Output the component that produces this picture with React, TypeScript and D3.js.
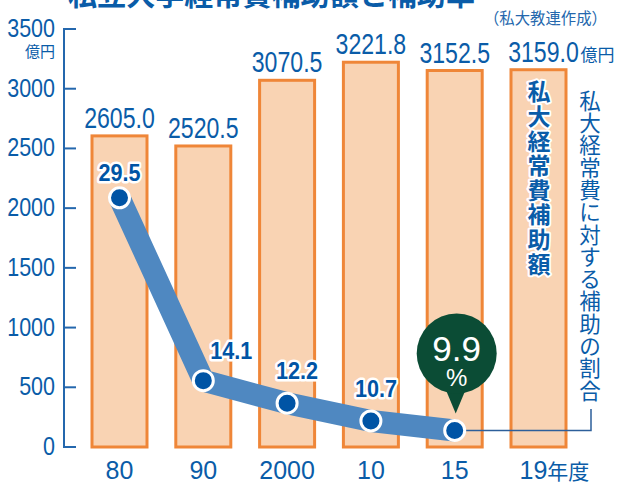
import React from "react";
import * as d3 from "d3";

const categories = ["80", "90", "2000", "10", "15", "19"];
const subsidy = [2605.0, 2520.5, 3070.5, 3221.8, 3152.5, 3159.0];
const ratioCategories = ["80", "90", "2000", "10", "15"];
const ratio = [29.5, 14.1, 12.2, 10.7, 9.9];
const yTicks = [0, 500, 1000, 1500, 2000, 2500, 3000, 3500];
const xLabels = ["80", "90", "2000", "10", "15", "19"];
const title = "私立大学経常費補助額と補助率";
const source = "（私大教連作成）";
const barNote = "私大経常費補助額";
const lineNote = "私大経常費に対する補助の割合";

// label offsets for ratio labels (dx, dy) relative to points
const ratioLabelOffsets = [
  [0, -17],
  [28, -22],
  [10, -24],
  [5, -24],
];

const W = 618;
const H = 482;
const BLUE = "#0a5ca8";
const AXIS = "#2467ad";
const BAR_FILL = "#f9d3b3";
const BAR_STROKE = "#ef8638";
const LINE = "#4f88c1";
const DOT = "#0054a5";
const GREEN = "#0b4c35";
const NUM = "'Liberation Sans', Arial, Helvetica, sans-serif";
const CJK = "'Noto Sans CJK JP', 'Noto Sans', sans-serif";

export default function App() {
  const x = d3.scalePoint<string>().domain(categories).range([119.5, 538.5]);
  const y = d3.scaleLinear().domain([0, 3500]).range([447, 29]);
  const yp = d3.scaleLinear().domain([0, 30]).range([548, 548 - 30 * 11.87]);
  const barW = 55;

  const pts = ratio.map((v, i) => [x(ratioCategories[i]) as number, yp(v)] as [number, number]);
  const linePath = d3.line().curve(d3.curveLinear)(pts) || "";

  const last = pts[pts.length - 1];
  const bx = last[0] + 2;
  const by = last[1] - 77;
  const lastBarX = x(categories[5]) as number;

  return (
    <svg width={W} height={H} style={{ position: "absolute", left: 0, top: 0, background: "#fff" }}>
      {/* title (cut off at top) */}
      <text x={68} y={6} fontFamily={CJK} fontWeight={700} fontSize={29} fill={BLUE} textLength={407} lengthAdjust="spacingAndGlyphs">
        {title}
      </text>
      <text x={607} y={24} textAnchor="end" fontFamily={CJK} fontSize={16} fill={AXIS} textLength={123} lengthAdjust="spacingAndGlyphs">
        {source}
      </text>

      {/* axis */}
      <line x1={64} x2={64} y1={y(3500)} y2={y(0)} stroke={AXIS} strokeWidth={2} />
      {yTicks.map((t) => (
        <g key={t}>
          <line x1={63} x2={76} y1={y(t)} y2={y(t)} stroke={AXIS} strokeWidth={2} />
          <text
            transform={`translate(55,${y(t) + 8}) scale(0.86,1)`}
            textAnchor="end"
            fontFamily={NUM}
            fontSize={25}
            fill={BLUE}
          >
            {t}
          </text>
        </g>
      ))}
      <text x={55} y={57} textAnchor="end" fontFamily={CJK} fontSize={15} fill={BLUE}>
        億円
      </text>

      {/* bars */}
      {subsidy.map((v, i) => (
        <rect
          key={i}
          x={(x(categories[i]) as number) - barW / 2}
          y={y(v)}
          width={barW}
          height={y(0) - y(v)}
          fill={BAR_FILL}
          stroke={BAR_STROKE}
          strokeWidth={3}
        />
      ))}
      {subsidy.map((v, i) => (
        <text
          key={i}
          transform={`translate(${(x(categories[i]) as number) + (i === 5 ? 5 : 0)},${y(v) - 8}) scale(0.77,1)`}
          textAnchor="middle"
          fontFamily={NUM}
          fontSize={30}
          fill={BLUE}
        >
          {v.toFixed(1)}
        </text>
      ))}
      <text x={lastBarX + 42} y={y(subsidy[5]) - 9} textAnchor="start" fontFamily={CJK} fontSize={17} fill={BLUE}>
        億円
      </text>

      {/* vertical note inside last bar */}
      {barNote.split("").map((c, i) => (
        <text
          key={i}
          x={539}
          y={80 + 12.3 + i * 24.6 + 8}
          textAnchor="middle"
          fontFamily={CJK}
          fontWeight={700}
          fontSize={23}
          fill={BLUE}
          stroke="#fff"
          strokeWidth={4}
          paintOrder="stroke"
          strokeLinejoin="round"
        >
          {c}
        </text>
      ))}

      {/* vertical note on right */}
      {lineNote.split("").map((c, i) => (
        <text
          key={i}
          x={590}
          y={90 + 11.15 + i * 22.3 + 7.6}
          textAnchor="middle"
          fontFamily={CJK}
          fontSize={21.5}
          fill={BLUE}
        >
          {c}
        </text>
      ))}

      {/* connector */}
      <path
        d={`M${last[0]},${last[1]} H591 V409`}
        fill="none"
        stroke="#2d5f9a"
        strokeWidth={1.5}
      />

      {/* ratio line */}
      <path d={linePath} fill="none" stroke={LINE} strokeWidth={22} strokeLinecap="round" strokeLinejoin="round" />
      {pts.map((p, i) => (
        <circle key={i} cx={p[0]} cy={p[1]} r={10} fill={DOT} stroke="#fff" strokeWidth={3} />
      ))}
      {ratio.slice(0, 4).map((v, i) => (
        <text
          key={i}
          transform={`translate(${pts[i][0] + ratioLabelOffsets[i][0]},${pts[i][1] + ratioLabelOffsets[i][1]}) scale(0.9,1)`}
          textAnchor="middle"
          fontFamily={NUM}
          fontWeight={700}
          fontSize={24}
          fill={DOT}
          stroke="#fff"
          strokeWidth={5}
          paintOrder="stroke"
          strokeLinejoin="round"
        >
          {v.toFixed(1)}
        </text>
      ))}

      {/* bubble */}
      <path d={`M${bx - 11},${by + 36} L${last[0] + 1},${last[1] - 17} L${bx + 9},${by + 36} Z`} fill={GREEN} />
      <circle cx={bx} cy={by} r={40} fill={GREEN} />
      <text x={bx} y={by + 8} textAnchor="middle" fontFamily={NUM} fontSize={35} fill="#fff">
        {ratio[4].toFixed(1)}
      </text>
      <text x={bx} y={by + 33} textAnchor="middle" fontFamily={NUM} fontSize={24} fill="#fff">
        %
      </text>

      {/* x labels */}
      {xLabels.map((l, i) =>
        i < xLabels.length - 1 ? (
          <text key={i} x={x(categories[i])} y={479} textAnchor="middle" fontFamily={NUM} fontSize={25} fill={BLUE}>
            {l}
          </text>
        ) : (
          <text key={i} x={(x(categories[i]) as number) - 19} y={479} textAnchor="start" fontFamily={NUM} fontSize={25} fill={BLUE}>
            {l}
            <tspan fontFamily={CJK} fontSize={21}>年度</tspan>
          </text>
        )
      )}
    </svg>
  );
}
